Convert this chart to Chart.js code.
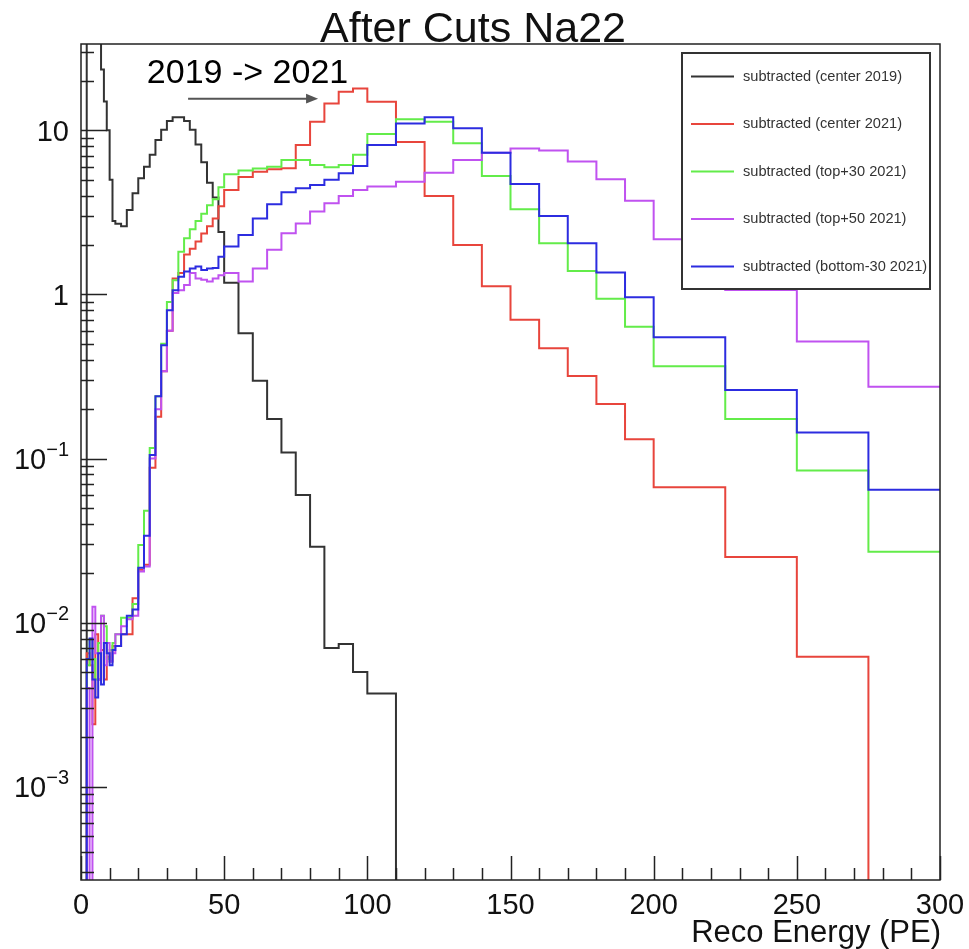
<!DOCTYPE html>
<html>
<head>
<meta charset="utf-8">
<title>After Cuts Na22</title>
<script src="https://cdn.jsdelivr.net/npm/chart.js@4.4.1/dist/chart.umd.min.js"></script>
<style>
  html, body { margin: 0; padding: 0; background: #fff; overflow: hidden; }
  canvas { display: block; }
</style>
</head>
<body>
<canvas id="histo" width="969" height="949"></canvas>
<script>
// empty / negative bins, drawn below the bottom of the log axis
const EMPTY = 1e-6;

// bin edges (variable binning, 55 bins)
const binEdges = [0, 1, 2, 3, 4, 5, 6, 7, 8, 9, 10, 11, 12,
  14, 16, 18, 20, 22, 24, 26, 28, 30, 32, 34, 36, 38, 40, 42, 44, 46, 48, 50,
  55, 60, 65, 70, 75, 80, 85, 90, 95, 100,
  110, 120, 130, 140, 150, 160, 170, 180, 190, 200,
  225, 250, 275, 300];

const center2019 = [EMPTY, EMPTY, 300, 200, 120, 80, 50, 23.5, 15, 10, 5, 2.8,
  2.7, 2.6, 3.27, 4.14, 5.1, 6.0, 7.1, 8.75, 10.1, 11.4, 12.0, 12.0, 11.4, 10.1, 8.2, 6.4, 4.8, 3.9, 2.4,
  1.18, 0.58, 0.298, 0.174, 0.109, 0.060, 0.029, 0.0070, 0.0074, 0.0050,
  0.0037, EMPTY, EMPTY, EMPTY, EMPTY, EMPTY, EMPTY, EMPTY, EMPTY, EMPTY,
  EMPTY, EMPTY, EMPTY, EMPTY];

const center2021 = [EMPTY, EMPTY, 0.0065, 0.0055, 0.0024, 0.0085, 0.0045, 0.0068, 0.0045, 0.0062, 0.0058, 0.0072,
  0.0072, 0.0085, 0.0085, 0.0141, 0.021, 0.0225, 0.088, 0.18, 0.34, 0.6, 1.25, 1.35, 1.75, 1.9, 2.1, 2.35, 2.6, 2.9, 3.45,
  4.33, 5.2, 5.6, 5.8, 5.87, 8.15, 11.3, 14.6, 17.2, 18.0,
  14.95, 8.5, 3.98, 2.0, 1.12, 0.70, 0.47, 0.318, 0.215, 0.131,
  0.0668, 0.0251, 0.0062, EMPTY];

const top30 = [EMPTY, EMPTY, 0.0055, 0.0079, 0.006, 0.0045, 0.0075, 0.011, 0.0095, 0.006, 0.0068, 0.0075,
  0.0085, 0.0107, 0.0107, 0.013, 0.0297, 0.048, 0.116, 0.24, 0.5, 0.9, 1.22, 1.82, 2.2, 2.5, 2.8, 3.1, 3.5, 3.8, 4.5,
  5.4, 5.7, 5.85, 6.0, 6.6, 6.6, 6.15, 5.95, 6.15, 7.1,
  9.5, 11.7, 11.3, 8.36, 5.27, 3.30, 2.05, 1.39, 0.94, 0.636,
  0.365, 0.174, 0.0845, 0.027];

const top50 = [EMPTY, EMPTY, 0.004, EMPTY, 0.0125, 0.0065, 0.0045, 0.011, 0.0055, 0.0075, 0.0058, 0.0065,
  0.0085, 0.0095, 0.0105, 0.011, 0.0205, 0.022, 0.1, 0.2, 0.34, 0.6, 1.02, 1.06, 1.14, 1.35, 1.25, 1.23, 1.2, 1.25, 1.31,
  1.35, 1.2, 1.44, 1.87, 2.36, 2.71, 3.2, 3.6, 3.98, 4.33,
  4.55, 4.87, 5.52, 6.6, 7.3, 7.76, 7.53, 6.45, 5.03, 3.73,
  2.17, 1.065, 0.516, 0.274];

const bottom30 = [EMPTY, EMPTY, 0.006, 0.008, 0.0045, 0.0035, 0.0065, 0.0042, 0.0075, 0.0065, 0.0055, 0.0068,
  0.0072, 0.0085, 0.011, 0.012, 0.0216, 0.0338, 0.105, 0.24, 0.49, 0.8, 1.06, 1.28, 1.38, 1.44, 1.48, 1.41, 1.44, 1.45, 1.70,
  1.96, 2.3, 2.9, 3.55, 4.2, 4.44, 4.65, 5.0, 5.47, 6.06,
  8.15, 11.0, 12.0, 10.3, 7.3, 4.71, 3.01, 2.05, 1.36, 0.96,
  0.548, 0.262, 0.144, 0.0645];

const seriesNames = [
  'subtracted (center 2019)',
  'subtracted (center 2021)',
  'subtracted (top+30 2021)',
  'subtracted (top+50 2021)',
  'subtracted (bottom-30 2021)'
];
const seriesColors = ['#333333', '#e8453c', '#63ec4a', '#c052f0', '#2c2ce0'];

// axis ranges and tick labels
const xMin = 0, xMax = 300;
const yMin = 2.7e-4, yMax = 33.6;
const xTickValues = [0, 50, 100, 150, 200, 250, 300];
const xTickLabels = ['0', '50', '100', '150', '200', '250', '300'];
const yTickValues = [0.001, 0.01, 0.1, 1, 10];
const yTickBase = ['10', '10', '10', '1', '10'];
const yTickExp = ['\u22123', '\u22122', '\u22121', '', ''];

const FONT = "'Liberation Sans', Arial, sans-serif";

// histogram -> points on the left edge of each bin + closing point
function toSteps(values) {
  const pts = values.map((v, i) => ({ x: binEdges[i], y: v }));
  pts.push({ x: binEdges[binEdges.length - 1], y: values[values.length - 1] });
  return pts;
}

const allSeries = [center2019, center2021, top30, top50, bottom30];

// ROOT-like frame, inward ticks, labels, legend and the note
const rootStyle = {
  id: 'rootStyle',
  afterDatasetsDraw(chart) {
    const ctx = chart.ctx;
    const area = chart.chartArea;
    const x = chart.scales.x;
    const y = chart.scales.y;
    ctx.save();

    // frame
    ctx.strokeStyle = '#222';
    ctx.lineWidth = 1.5;
    ctx.strokeRect(area.left, area.top, area.right - area.left, area.bottom - area.top);

    // ticks
    ctx.beginPath();
    for (let v = xMin; v <= xMax; v += 10) {
      const px = Math.round(x.getPixelForValue(v)) + 0.5;
      const len = v % 50 === 0 ? 24 : 12;
      ctx.moveTo(px, area.bottom);
      ctx.lineTo(px, area.bottom - len);
    }
    for (let d = -4; d <= 1; d++) {
      for (let m = 1; m <= 9; m++) {
        const v = m * Math.pow(10, d);
        if (v < yMin || v > yMax) continue;
        const py = Math.round(y.getPixelForValue(v)) + 0.5;
        ctx.moveTo(area.left, py);
        ctx.lineTo(area.left + (m === 1 ? 26 : 13), py);
      }
    }
    ctx.stroke();

    // x labels
    ctx.fillStyle = '#111';
    ctx.font = '29px ' + FONT;
    ctx.textAlign = 'center';
    ctx.textBaseline = 'alphabetic';
    xTickValues.forEach((v, i) => {
      ctx.fillText(xTickLabels[i], x.getPixelForValue(v), 914);
    });

    // y labels with superscript exponent
    ctx.textAlign = 'left';
    yTickValues.forEach((v, i) => {
      const py = y.getPixelForValue(v);
      ctx.font = '29px ' + FONT;
      const wb = ctx.measureText(yTickBase[i]).width;
      ctx.font = '20px ' + FONT;
      const we = yTickExp[i] ? ctx.measureText(yTickExp[i]).width : 0;
      const right = 69;
      ctx.font = '29px ' + FONT;
      ctx.fillText(yTickBase[i], right - we - wb, py + 10.5);
      if (yTickExp[i]) {
        ctx.font = '20px ' + FONT;
        ctx.fillText(yTickExp[i], right - we, py - 3);
      }
    });

    // axis title
    ctx.font = '31px ' + FONT;
    ctx.textAlign = 'right';
    ctx.fillText('Reco Energy (PE)', 941, 942);

    // note with arrow
    ctx.font = '34px ' + FONT;
    ctx.textAlign = 'left';
    ctx.fillStyle = '#000';
    ctx.fillText('2019 -> 2021', x.getPixelForValue(23.0), y.getPixelForValue(19.5));
    const ax0 = x.getPixelForValue(37.4), ax1 = x.getPixelForValue(82.8);
    const ay = y.getPixelForValue(15.6);
    ctx.strokeStyle = '#555';
    ctx.fillStyle = '#555';
    ctx.lineWidth = 2;
    ctx.beginPath();
    ctx.moveTo(ax0, ay);
    ctx.lineTo(ax1 - 8, ay);
    ctx.stroke();
    ctx.beginPath();
    ctx.moveTo(ax1, ay);
    ctx.lineTo(ax1 - 12, ay - 4.8);
    ctx.lineTo(ax1 - 12, ay + 4.8);
    ctx.closePath();
    ctx.fill();

    // legend box
    const lx = 682, ly = 53, lw = 248, lh = 236;
    ctx.fillStyle = '#fff';
    ctx.fillRect(lx, ly, lw, lh);
    ctx.strokeStyle = '#333';
    ctx.lineWidth = 2;
    ctx.strokeRect(lx, ly, lw, lh);
    ctx.font = '14.6px ' + FONT;
    ctx.textBaseline = 'middle';
    chart.data.datasets.forEach((ds, i) => {
      const ry = 76.5 + i * 47.5;
      ctx.strokeStyle = ds.borderColor;
      ctx.lineWidth = 2;
      ctx.beginPath();
      ctx.moveTo(691, ry);
      ctx.lineTo(734, ry);
      ctx.stroke();
      ctx.fillStyle = '#333';
      ctx.fillText(ds.label, 743, ry);
    });
    ctx.restore();
  },
  afterDraw(chart) {
    const ctx = chart.ctx;
    ctx.save();
    ctx.fillStyle = '#111';
    ctx.font = '43px ' + FONT;
    ctx.textAlign = 'center';
    ctx.textBaseline = 'alphabetic';
    ctx.fillText('After Cuts Na22', 473, 42);
    ctx.restore();
  }
};

document.addEventListener('DOMContentLoaded', function() {
  const datasets = allSeries.map((vals, i) => ({
    label: seriesNames[i],
    data: toSteps(vals),
    borderColor: seriesColors[i],
    borderWidth: 2,
    stepped: true,
    pointRadius: 0,
    fill: false,
    order: allSeries.length - i
  }));

  const config = {
    type: 'line',
    data: { datasets: datasets },
    options: {
      responsive: false,
      animation: false,
      layout: { padding: { left: 81, top: 44, right: 29, bottom: 69 } },
      scales: {
        x: { type: 'linear', min: xMin, max: xMax, display: false },
        y: { type: 'logarithmic', min: yMin, max: yMax, display: false }
      },
      plugins: {
        legend: { display: false },
        tooltip: { enabled: false }
      }
    },
    plugins: [rootStyle]
  };

  const ctx = document.getElementById('histo').getContext('2d');
  new Chart(ctx, config);
});
</script>
</body>
</html>
